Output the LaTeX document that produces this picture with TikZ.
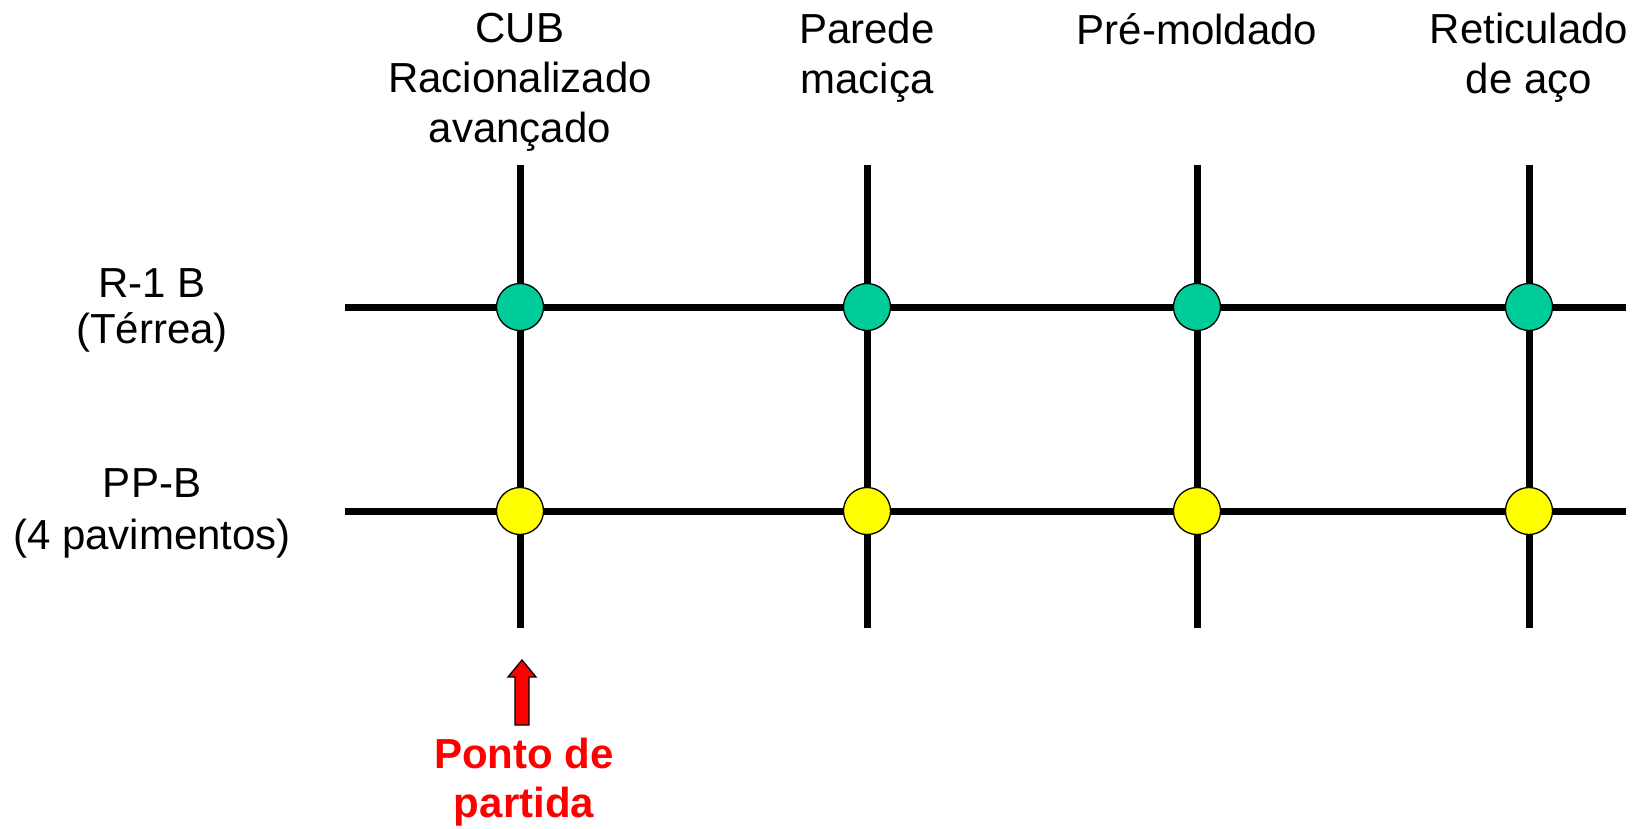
\documentclass[tikz,border=0pt]{standalone}
\usepackage{fontspec}
\setmainfont{Liberation Sans}
\usepackage{tikz}
\tikzset{>=latex}
\definecolor{verde}{RGB}{0,204,153}
\definecolor{amarelo}{RGB}{255,255,0}
\tikzset{
  grade/.style={line width=7pt},
  bola/.style={circle,draw,line width=1.3pt,minimum size=47pt,inner sep=0pt},
  rotulo/.style={align=center,font=\fontsize{42}{50}\selectfont,inner sep=0pt,anchor=north},
}

\begin{document}
\begin{tikzpicture}[x=1pt,y=-1pt]
\useasboundingbox (0,0) rectangle (1642,828);
% colunas
\foreach \n/\x in {a/520,b/867,c/1197,d/1529} {
  \coordinate (\n top) at (\x,165);
  \coordinate (\n bot) at (\x,628);
  \draw[grade] (\n top) -- (\n bot);
}
% linhas
\coordinate (r1 esq) at (345,307);
\coordinate (r1 dir) at (1626,307);
\coordinate (r2 esq) at (345,511);
\coordinate (r2 dir) at (1626,511);
\draw[grade] (r1 esq) -- (r1 dir);
\draw[grade] (r2 esq) -- (r2 dir);
% pontos
\foreach \n/\x in {a/520,b/867,c/1197,d/1529} {
  \node[bola,fill=verde] (\n1) at (\x,307) {};
  \node[bola,fill=amarelo] (\n2) at (\x,511) {};
}
% titulos
\node[rotulo] (cub) at (520,13) {CUB\\Racionalizado\\avançado};
\node[rotulo] (parede) at (867,13) {Parede\\maciça};
\node[rotulo] (premold) at (1197,13) {Pré-moldado};
\node[rotulo] (retic) at (1529,13) {Reticulado\\de aço};
\node[rotulo,font=\fontsize{42}{46}\selectfont] (terrea) at (152,268) {R-1 B\\(Térrea)};
\node[rotulo,font=\fontsize{42}{52}\selectfont] (pav) at (152,468) {PP-B\\(4 pavimentos)};
% ponto de partida
\coordinate (seta) at (522,660);
\draw[fill=red,line width=1.3pt] (seta) -- ++(14,17) -- ++(-7,0) -- ++(0,48)
  -- ++(-14,0) -- ++(0,-48) -- ++(-7,0) -- cycle;
\node[rotulo,text=red,font=\bfseries\fontsize{42}{49}\selectfont] (partida) at (524,738) {Ponto de\\partida};
\end{tikzpicture}
\end{document}
